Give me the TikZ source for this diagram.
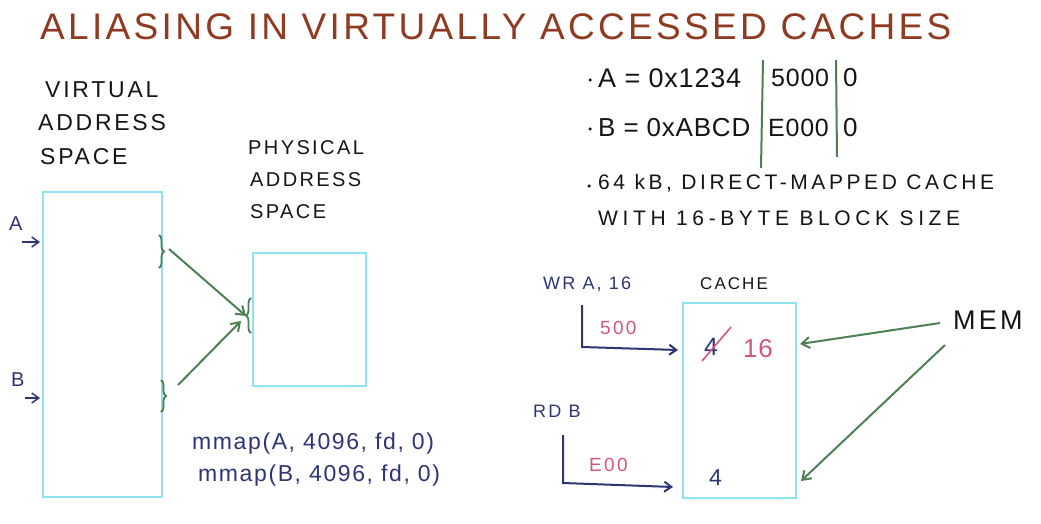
\documentclass[tikz,border=0pt]{standalone}
\usepackage{fontspec}
\setmainfont{Liberation Sans}
\newfontfamily\hand[LetterSpace=12]{Liberation Sans}
\newfontfamily\handt[LetterSpace=9]{Liberation Sans}
\newfontfamily\handn[LetterSpace=3]{Liberation Sans}
\newfontfamily\handm[LetterSpace=7]{Liberation Sans}
\newfontfamily\handc[LetterSpace=17]{Liberation Sans}
\newfontfamily\handw[LetterSpace=22]{Liberation Sans}
\usetikzlibrary{arrows.meta,decorations.pathreplacing}
\definecolor{titlebrown}{HTML}{8E3B22}
\definecolor{boxcyan}{HTML}{8FE3F0}
\definecolor{pengreen}{HTML}{4F7F55}
\definecolor{penblue}{HTML}{2E3575}
\definecolor{penpink}{HTML}{D2577F}
\definecolor{penblack}{HTML}{151515}
\newcommand{\fsz}[1]{\fontsize{#1}{#1}\selectfont}
\begin{document}
\begin{tikzpicture}[x=1pt,y=-1pt,
  lbl/.style={inner sep=0pt, anchor=west, text=penblack},
  bluetxt/.style={lbl, text=penblue},
  pinktxt/.style={lbl, text=penpink},
  bulletdot/.style={circle, fill=penblack, inner sep=0pt, minimum size=3.5pt},
  spacebox/.style={draw=boxcyan, line width=1.9pt},
  greenarrow/.style={draw=pengreen, line width=2pt, -{Straight Barb[length=8pt,width=11pt]}},
  bluearrow/.style={draw=penblue, line width=2pt, -{Straight Barb[length=7pt,width=10pt]}},
  greenline/.style={draw=pengreen, line width=2pt},
  curly/.style={draw=pengreen, line width=1.8pt, decorate, decoration={brace, amplitude=5pt}}
]
\useasboundingbox[fill=white] (0,0) rectangle (1041,524);

% title
\node[lbl, text=titlebrown, font=\handt\fsz{37}] (title) at (40,27) {ALIASING IN VIRTUALLY ACCESSED CACHES};

% virtual address space
\node[lbl, font=\hand\fsz{23}] (v1) at (45,90) {VIRTUAL};
\node[lbl, font=\hand\fsz{23}] (v2) at (38,123) {ADDRESS};
\node[lbl, font=\hand\fsz{23}] (v3) at (40,157) {SPACE};
\draw[spacebox] (43,192) rectangle (162,497);

\node[bluetxt, font=\hand\fsz{20}] (lA) at (9,224) {A};
\coordinate (aS) at (22,242); \coordinate (aE) at (40,242);
\draw[bluearrow, line width=1.5pt] (aS) -- (aE);
\node[bluetxt, font=\hand\fsz{20}] (lB) at (11,380) {B};
\coordinate (bS) at (25,398); \coordinate (bE) at (40,398);
\draw[bluearrow, line width=1.5pt] (bS) -- (bE);

% physical address space
\node[lbl, font=\hand\fsz{20}] (p1) at (248,148) {PHYSICAL};
\node[lbl, font=\hand\fsz{20}] (p2) at (250,180) {ADDRESS};
\node[lbl, font=\hand\fsz{20}] (p3) at (250,212) {SPACE};
\draw[spacebox] (253,253) rectangle (366,386);

% braces
\draw[curly] (159,235) -- (159,268);
\draw[curly] (161,380) -- (161,412);
\draw[curly] (251,333) -- (251,298);
\coordinate (br1) at (169,249);
\coordinate (br2) at (178,385);
\coordinate (pbr) at (246,316);
\coordinate (pbr2) at (241,321);
\draw[greenarrow] (br1) -- (pbr);
\draw[greenarrow] (br2) -- (pbr2);

% mmap
\node[bluetxt, font=\handm\fsz{23}] (mm1) at (192,444) {mmap(A, 4096, fd, 0)};
\node[bluetxt, font=\handm\fsz{23}] (mm2) at (198,476) {mmap(B, 4096, fd, 0)};

% addresses
\node[bulletdot] (bulA) at (590,80) {};
\node[lbl, font=\handn\fsz{27}] (addrA) at (598,78) {A = 0x1234};
\node[lbl, font=\handn\fsz{25}] (addrA2) at (771,78) {5000};
\node[lbl, font=\handn\fsz{26}] (addrA3) at (843,78) {0};
\node[bulletdot] (bulB) at (590,129) {};
\node[lbl, font=\handn\fsz{26}] (addrB) at (598,128) {B = 0xABCD};
\node[lbl, font=\handn\fsz{25}] (addrB2) at (768,128) {E000};
\node[lbl, font=\handn\fsz{26}] (addrB3) at (843,128) {0};
\coordinate (g1t) at (763,60); \coordinate (g1b) at (761,168);
\coordinate (g2t) at (836,60); \coordinate (g2b) at (837,157);
\draw[greenline] (g1t) -- (g1b);
\draw[greenline] (g2t) -- (g2b);

\node[bulletdot] (bulC) at (589,186) {};
\node[lbl, font=\handc\fsz{21}] (c1) at (598,183) {64 kB, DIRECT-MAPPED CACHE};
\node[lbl, font=\handw\fsz{21}] (c2) at (598,218) {WITH 16-BYTE BLOCK SIZE};

% cache
\node[lbl, font=\hand\fsz{17}] (cachelbl) at (700,284) {CACHE};
\draw[spacebox] (683,303) rectangle (796,498);
\node[bluetxt, font=\hand\fsz{25}] (old4) at (704,347) {4};
\coordinate (x1) at (702,361); \coordinate (x2) at (731,327);
\draw[draw=penpink, line width=1.6pt] (x1) -- (x2);
\node[pinktxt, font=\handn\fsz{26}] (new16) at (743,349) {16};
\node[bluetxt, font=\hand\fsz{23}] (b4) at (709,478) {4};

% write / read
\node[bluetxt, font=\hand\fsz{18}] (wr) at (543,284) {WR A, 16};
\coordinate (w0) at (582,305); \coordinate (w1) at (582,347); \coordinate (w2) at (678,350);
\draw[bluearrow] (w0) -- (w1) -- (w2);
\node[pinktxt, font=\hand\fsz{19}] (v500) at (600,328) {500};

\node[bluetxt, font=\hand\fsz{18}] (rd) at (533,411) {RD B};
\coordinate (r0) at (563,435); \coordinate (r1) at (563,483); \coordinate (r2) at (673,487);
\draw[bluearrow] (r0) -- (r1) -- (r2);
\node[pinktxt, font=\hand\fsz{19}] (vE00) at (589,465) {E00};

% memory
\node[lbl, font=\hand\fsz{27}] (mem) at (953,320) {MEM};
\coordinate (m1) at (940,323); \coordinate (c1e) at (800,344);
\coordinate (m2) at (945,345); \coordinate (c2e) at (801,481);
\draw[greenarrow] (m1) -- (c1e);
\draw[greenarrow] (m2) -- (c2e);
\end{tikzpicture}
\end{document}
